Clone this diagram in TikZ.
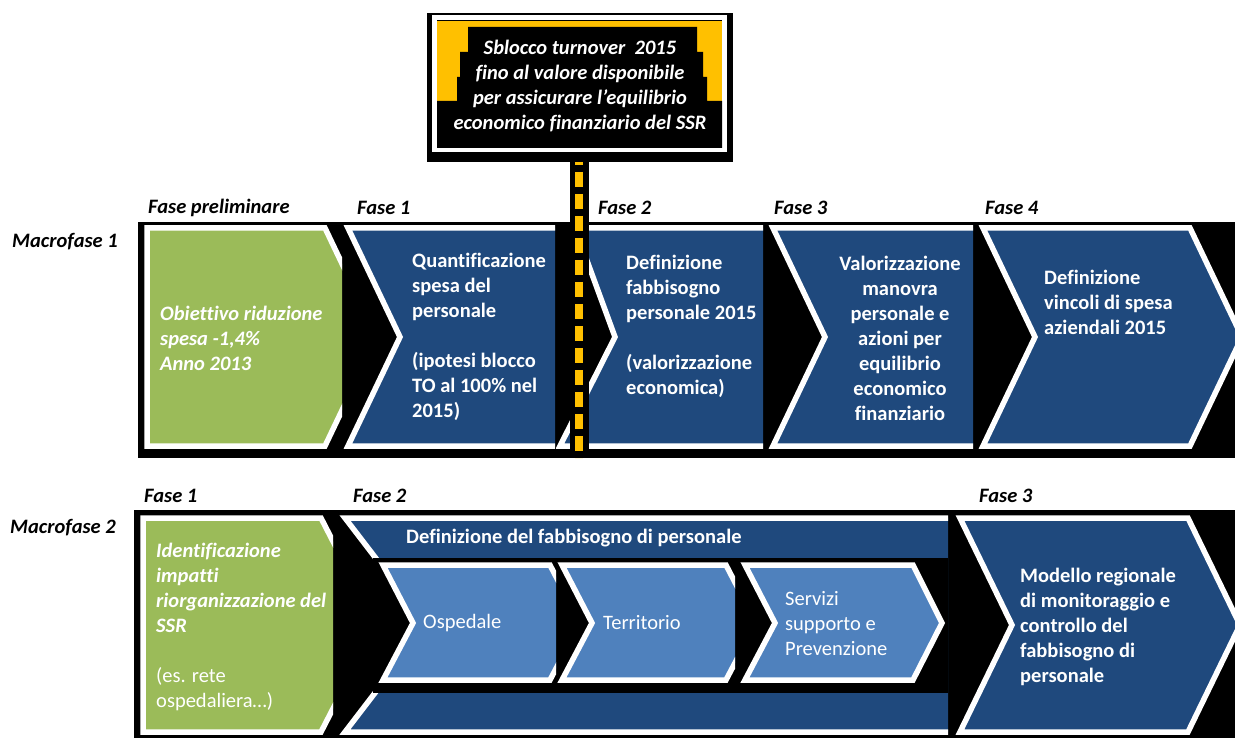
\documentclass[tikz,border=0pt]{standalone}
\usepackage{fontspec}
\setmainfont{Carlito}[Ligatures=NoCommon]
\definecolor{fasgreen}{RGB}{155,187,89}
\definecolor{fasblue}{RGB}{31,73,125}
\definecolor{subblue}{RGB}{79,129,189}
\definecolor{signyellow}{RGB}{255,192,0}

\begin{document}
\fontsize{20.5}{25}\selectfont
\begin{tikzpicture}[x=1pt, y=-1pt,
    chev/.style={draw=white, line width=5.5pt, line join=miter, fill=#1},
    fase/.style={anchor=west, inner sep=0pt, font=\bfseries\itshape},
    txt/.style={anchor=west, inner sep=0pt, align=left, text=white, font=\bfseries},
    subtxt/.style={anchor=west, inner sep=0pt, align=left, text=white}
  ]
    \useasboundingbox (0,0) rectangle (1235,738);

    % Bands
    \fill[black] (138,222) rectangle (1235,458);
    \fill[black] (134,510) rectangle (1235,738);

    % Macrofase 1
    \begin{scope}
      \clip (138,222) rectangle (342,458);
      \draw[chev=fasgreen] (147,228) -- (325,228) -- (377,337) -- (325,446) -- (147,446) -- cycle;
    \end{scope}
    \begin{scope}
      \clip (343,222) rectangle (555,458);
      \draw[chev=fasblue] (348,228) -- (560,228) -- (612,337) -- (560,446) -- (348,446) -- (400,337) -- cycle;
    \end{scope}
    \begin{scope}
      \clip (556,222) rectangle (763,458);
      \draw[chev=fasblue] (575,228) -- (770,228) -- (822,337) -- (770,446) -- (560,446) -- (615,337) -- cycle;
    \end{scope}
    \begin{scope}
      \clip (766,222) rectangle (973,458);
      \draw[chev=fasblue] (773,228) -- (980,228) -- (1032,337) -- (980,446) -- (773,446) -- (825,337) -- cycle;
    \end{scope}
    \draw[chev=fasblue] (983,228) -- (1190,228) -- (1242,337) -- (1190,446) -- (983,446) -- (1035,337) -- cycle;

    \node[txt, font=\bfseries\itshape] (obiettivo) at (160,338) {Obiettivo riduzione\\spesa -1,4\%\\Anno 2013};
    \node[txt] (quantif) at (412,337) {Quantificazione\\spesa del\\personale\\[25pt](ipotesi blocco\\TO al 100\% nel\\2015)};
    \node[txt] (fabb) at (626,326) {Definizione\\fabbisogno\\personale 2015\\[25pt](valorizzazione\\economica)};
    \node[txt, align=center, anchor=center] (valor) at (900,338) {Valorizzazione\\manovra\\personale e\\azioni per\\equilibrio\\economico\\finanziario};
    \node[txt] (vincoli) at (1044,302) {Definizione\\vincoli di spesa\\aziendali 2015};

    % Sign and pole
    \coordinate (poletop) at (579,150);
    \coordinate (polefoot) at (579,458);
    \draw[black, line width=19pt] (poletop) -- (polefoot);
    \draw[signyellow, line width=8pt, dash pattern=on 15pt off 7pt] (poletop) -- (polefoot);

    \fill[black] (427,13) rectangle (733,162);
    \fill[signyellow] (437,21) rectangle (722,148);
    \draw[white, line width=5pt] (434.5,18) rectangle (724.5,150);
    \fill[black] (468,27) -- (697,27) -- (697,52) -- (703,52) -- (703,77) -- (707,77) -- (707,101)
      -- (722,101) -- (722,148) -- (437,148) -- (437,101) -- (457,101) -- (457,77) -- (460,77)
      -- (460,52) -- (468,52) -- cycle;
    \node[txt, align=center, anchor=center, font=\bfseries\itshape] (sblocco) at (580,86)
      {Sblocco turnover\ \ 2015\\fino al valore disponibile\\per assicurare l’equilibrio\\economico finanziario del SSR};

    % Macrofase 2
    \begin{scope}
      \clip (134,510) rectangle (333,738);
      \draw[chev=fasgreen] (143,518) -- (321,518) -- (376,625) -- (321,732) -- (143,732) -- cycle;
    \end{scope}
    \begin{scope}
      \clip (336,510) rectangle (948,738);
      \draw[chev=fasblue] (345,518) -- (1000,518) -- (1050,625) -- (1000,732) -- (345,732) -- (427,625) -- cycle;
    \end{scope}
    \fill[black] (373,558) rectangle (948,693);
    \begin{scope}
      \clip (376,558) rectangle (556,693);
      \draw[chev=subblue] (383,565) -- (550,565) -- (580,623) -- (550,680) -- (383,680) -- (413,623) -- cycle;
    \end{scope}
    \begin{scope}
      \clip (556,558) rectangle (735,693);
      \draw[chev=subblue] (562,565) -- (726,565) -- (756,623) -- (726,680) -- (562,680) -- (592,623) -- cycle;
    \end{scope}
    \draw[chev=subblue] (745,565) -- (913,565) -- (942,623) -- (913,680) -- (745,680) -- (775,623) -- cycle;
    \draw[chev=fasblue] (960,518) -- (1188,518) -- (1240,625) -- (1188,732) -- (960,732) -- (1012,625) -- cycle;

    \node[subtxt] (identif) at (156,627) {\textbf{\textit{Identificazione}}\\\textbf{\textit{impatti}}\\\textbf{\textit{riorganizzazione del}}\\\textbf{\textit{SSR}}\\[25pt](es. rete\\ospedaliera…)};
    \node[txt] (defin) at (406,538) {Definizione del fabbisogno di personale};
    \node[subtxt] (ospedale) at (423,623) {Ospedale};
    \node[subtxt] (territorio) at (603,623) {Territorio};
    \node[subtxt] (servizi) at (785,624) {Servizi\\supporto e\\Prevenzione};
    \node[txt] (modello) at (1020,627) {Modello regionale\\di monitoraggio e\\controllo del\\fabbisogno di\\personale};

    % Labels
    \node[fase] (macro1) at (12,242) {Macrofase 1};
    \node[fase] (macro2) at (10,528) {Macrofase 2};
    \node[fase] (prelim) at (148,208) {Fase preliminare};
    \node[fase] (fase1a) at (357,208) {Fase 1};
    \node[fase] (fase2a) at (598,208) {Fase 2};
    \node[fase] (fase3a) at (774,208) {Fase 3};
    \node[fase] (fase4a) at (985,208) {Fase 4};
    \node[fase] (fase1b) at (144,496) {Fase 1};
    \node[fase] (fase2b) at (353,496) {Fase 2};
    \node[fase] (fase3b) at (979,496) {Fase 3};
\end{tikzpicture}
\end{document}
